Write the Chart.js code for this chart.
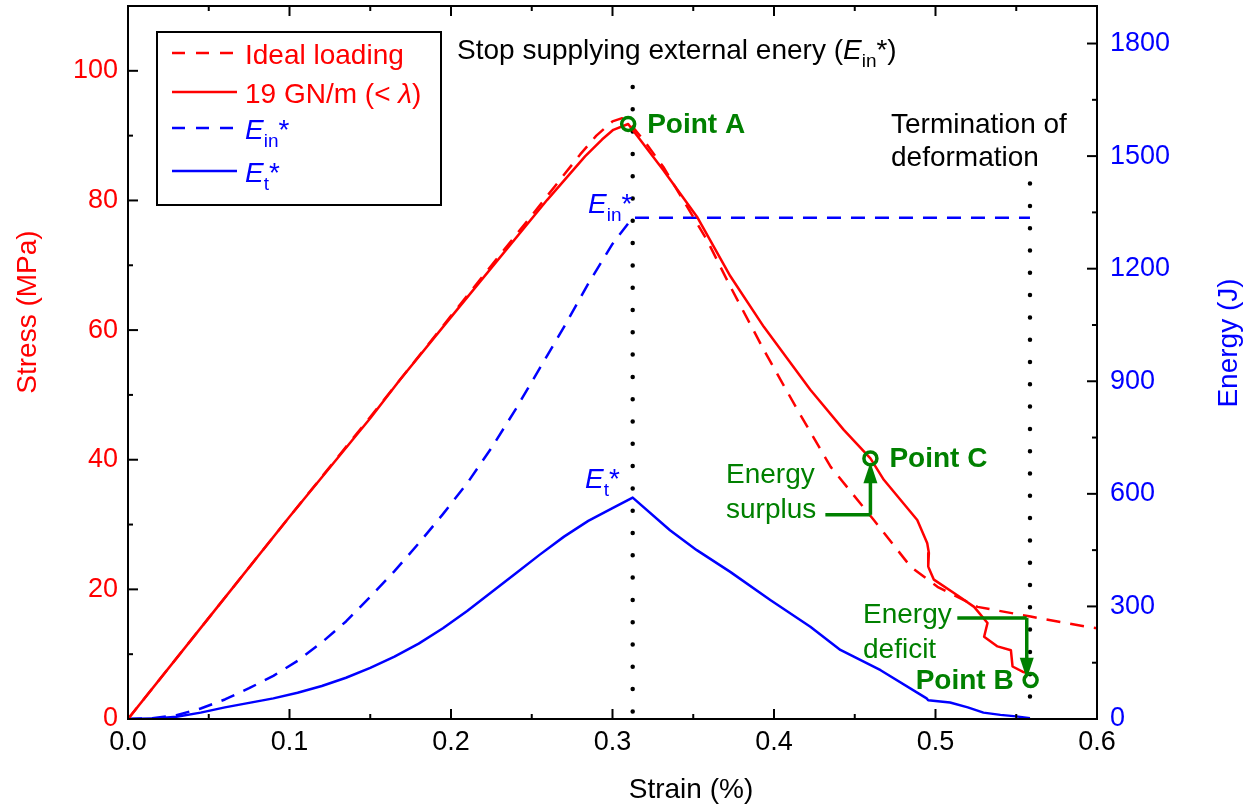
<!DOCTYPE html>
<html>
<head>
<meta charset="utf-8">
<script src="https://cdn.jsdelivr.net/npm/chart.js@4.4.1/dist/chart.umd.min.js"></script>
<style>
  html, body { margin: 0; padding: 0; background: #fff; }
</style>
</head>
<body>
<canvas id="strainChart" width="1252" height="809"></canvas>
<script>
// ideal loading (red dashed)
const strainIdeal = [0, 0.05, 0.10, 0.15, 0.20, 0.25, 0.28, 0.29, 0.30, 0.306, 0.312, 0.319, 0.3314, 0.3585, 0.373, 0.3938, 0.4145, 0.4351, 0.4618, 0.4846, 0.5012, 0.526, 0.5589, 0.5943, 0.6];
const stressIdeal = [0, 15.6, 31.2, 46.6, 62.2, 77.7, 87.1, 90.0, 92.2, 92.7, 91.5, 89.4, 85.2, 73.9, 66.7, 56.9, 47.7, 38.9, 30.7, 23.5, 20.4, 17.3, 15.8, 14.2, 14.0];

// 19 GN/m (red solid)
const strainLoad = [0, 0.05, 0.10, 0.15, 0.1683, 0.20, 0.2596, 0.283, 0.2935, 0.3005, 0.3097, 0.3314, 0.3523, 0.373, 0.3937, 0.4225, 0.4432, 0.4597, 0.468, 0.4887, 0.4949, 0.4959, 0.4955, 0.499, 0.5135, 0.5239, 0.5322, 0.5301, 0.5384, 0.5467, 0.5477, 0.5539, 0.558];
const stressLoad = [0, 15.6, 31.2, 46.4, 52.3, 62.0, 80.1, 86.8, 89.4, 90.9, 91.8, 84.7, 77.5, 68.3, 60.5, 50.8, 44.6, 40.2, 36.9, 30.7, 27.1, 25.6, 23.5, 21.5, 19.1, 17.3, 14.8, 12.7, 11.2, 10.6, 8.1, 7.3, 7.0];

// E_in* (blue dashed)
const strainEin = [0, 0.015, 0.03, 0.045, 0.06, 0.075, 0.09, 0.105, 0.12, 0.135, 0.15, 0.165, 0.18, 0.195, 0.21, 0.225, 0.24, 0.255, 0.27, 0.285, 0.30, 0.3125, 0.5585];
const energyEin = [0, 2, 10, 28, 52, 82, 115, 155, 204, 260, 326, 394, 468, 546, 628, 722, 825, 935, 1045, 1160, 1266, 1336, 1336];

// E_t* (blue solid)
const strainEt = [0, 0.015, 0.03, 0.045, 0.06, 0.075, 0.09, 0.105, 0.12, 0.135, 0.15, 0.165, 0.18, 0.195, 0.21, 0.225, 0.24, 0.255, 0.27, 0.285, 0.30, 0.3125, 0.3356, 0.3522, 0.3729, 0.3977, 0.4225, 0.4411, 0.466, 0.4945, 0.4955, 0.509, 0.52, 0.5297, 0.5402, 0.55, 0.5585];
const energyEt = [0, 1, 6, 17, 31, 43, 55, 70, 88, 110, 136, 166, 201, 242, 288, 338, 388, 438, 486, 528, 562, 590, 503, 450, 392, 317, 246, 184, 130, 55, 50, 44, 31, 17, 11, 7, 2];

// axis ticks
const strainTicks = [0, 0.1, 0.2, 0.3, 0.4, 0.5, 0.6];
const stressTicks = [0, 20, 40, 60, 80, 100];
const energyTicks = [0, 300, 600, 900, 1200, 1500, 1800];

// marked points and guide lines
const stopStrain = 0.3125;
const endStrain = 0.5585;
const pointA = [0.3097, 91.8];
const pointC = [0.4597, 40.2];
const pointB = [0.5589, 6.0];

const FONT = "'Liberation Sans', Arial, sans-serif";
const RED = '#ff0000', BLUE = '#0000ff', GREEN = '#008000';
Chart.defaults.font.family = FONT;

const pairs = (xs, ys) => xs.map((x, i) => ({ x, y: ys[i] }));

function rich(ctx, x, y, parts, color, align) {
    let w = 0;
    const m = parts.map(p => {
        const sz = p.sub ? 19 : 28;
        const f = (p.i ? 'italic ' : '') + (p.b ? 'bold ' : '') + sz + 'px ' + FONT;
        ctx.font = f;
        const pw = ctx.measureText(p.t).width;
        w += pw;
        return { p, f, pw };
    });
    let cx = align === 'right' ? x - w : align === 'center' ? x - w / 2 : x;
    ctx.fillStyle = color;
    ctx.textAlign = 'left';
    ctx.textBaseline = 'alphabetic';
    m.forEach(({ p, f, pw }) => {
        ctx.font = f;
        ctx.fillText(p.t, cx, y + (p.sub ? 8 : 0));
        cx += pw;
    });
}

function seg(ctx, x1, y1, x2, y2) {
    ctx.beginPath();
    ctx.moveTo(x1, y1);
    ctx.lineTo(x2, y2);
    ctx.stroke();
}

function arrowHead(ctx, x, y, dir) {
    // dir: -1 up, 1 down
    ctx.beginPath();
    ctx.moveTo(x, y);
    ctx.lineTo(x - 7, y - dir * 21);
    ctx.lineTo(x + 7, y - dir * 21);
    ctx.closePath();
    ctx.fill();
}

const overlay = {
    id: 'overlay',
    beforeDatasetsDraw(chart) {
        const { ctx, chartArea: a, scales: { x, y } } = chart;
        ctx.save();
        ctx.strokeStyle = '#000';
        ctx.lineWidth = 4.5;
        ctx.lineCap = 'round';
        ctx.setLineDash([0, 22.3]);
        // drawn from the top so the first dot sits at the line's start
        seg(ctx, x.getPixelForValue(stopStrain), y.getPixelForValue(97.5), x.getPixelForValue(stopStrain), a.bottom - 6);
        seg(ctx, x.getPixelForValue(endStrain), y.getPixelForValue(82.6), x.getPixelForValue(endStrain), a.bottom - 6);
        ctx.restore();
    },
    afterDatasetsDraw(chart) {
        const { ctx, chartArea: a, scales: { x, y, y2 } } = chart;
        ctx.save();

        // frame
        ctx.strokeStyle = '#000';
        ctx.lineWidth = 2;
        ctx.strokeRect(a.left, a.top, a.right - a.left, a.bottom - a.top);

        // inward ticks
        for (let i = 0; i <= 12; i++) {
            const px = x.getPixelForValue(i * 0.05);
            const L = i % 2 === 0 ? 10 : 5;
            seg(ctx, px, a.bottom, px, a.bottom - L);
            seg(ctx, px, a.top, px, a.top + L);
        }
        for (let i = 0; i <= 10; i++) {
            const py = y.getPixelForValue(i * 10);
            seg(ctx, a.left, py, a.left + (i % 2 === 0 ? 10 : 5), py);
        }
        for (let i = 0; i <= 12; i++) {
            const py = y2.getPixelForValue(i * 150);
            seg(ctx, a.right, py, a.right - (i % 2 === 0 ? 10 : 5), py);
        }

        // axis titles
        ctx.font = '28px ' + FONT;
        ctx.textAlign = 'center';
        ctx.textBaseline = 'middle';
        ctx.fillStyle = '#000';
        ctx.fillText('Strain (%)', 691, 790);
        ctx.save();
        ctx.translate(28, 312);
        ctx.rotate(-Math.PI / 2);
        ctx.fillStyle = RED;
        ctx.fillText('Stress (MPa)', 0, 0);
        ctx.restore();
        ctx.save();
        ctx.translate(1229, 343);
        ctx.rotate(-Math.PI / 2);
        ctx.fillStyle = BLUE;
        ctx.fillText('Energy (J)', 0, 0);
        ctx.restore();

        // text annotations
        rich(ctx, 457, 59, [{ t: 'Stop supplying external enery (' }, { t: 'E', i: 1 }, { t: 'in', sub: 1 }, { t: '*)' }], '#000');
        rich(ctx, 891, 133, [{ t: 'Termination of' }], '#000');
        rich(ctx, 891, 166, [{ t: 'deformation' }], '#000');
        rich(ctx, 588, 213, [{ t: 'E', i: 1 }, { t: 'in', sub: 1 }, { t: '*' }], BLUE);
        rich(ctx, 585, 488, [{ t: 'E', i: 1 }, { t: 't', sub: 1 }, { t: '*' }], BLUE);

        // points
        const ptxt = [[pointA, 'Point A', 'left'], [pointC, 'Point C', 'left'], [pointB, 'Point B', 'right']];
        ctx.strokeStyle = GREEN;
        ctx.lineWidth = 3.5;
        ptxt.forEach(([p, label, al]) => {
            const px = x.getPixelForValue(p[0]);
            const py = y.getPixelForValue(p[1]);
            ctx.beginPath();
            ctx.arc(px, py, 6.5, 0, Math.PI * 2);
            ctx.stroke();
            rich(ctx, al === 'left' ? px + 19 : px - 17, py + 9, [{ t: label, b: 1 }], GREEN, al);
        });

        // energy surplus arrow
        ctx.fillStyle = GREEN;
        const cx = x.getPixelForValue(pointC[0]);
        const sy = y.getPixelForValue(31.5);
        seg(ctx, x.getPixelForValue(0.4318), sy, cx, sy);
        seg(ctx, cx, sy, cx, y.getPixelForValue(37));
        arrowHead(ctx, cx, y.getPixelForValue(39.6), -1);
        rich(ctx, 726, 483, [{ t: 'Energy' }], GREEN);
        rich(ctx, 726, 518, [{ t: 'surplus' }], GREEN);

        // energy deficit arrow
        ctx.fillStyle = GREEN;
        const dx = x.getPixelForValue(0.5565);
        const dy = y.getPixelForValue(15.6);
        seg(ctx, x.getPixelForValue(0.5135), dy, dx, dy);
        seg(ctx, dx, dy, dx, y.getPixelForValue(9));
        arrowHead(ctx, dx, y.getPixelForValue(6.2), 1);
        rich(ctx, 863, 623, [{ t: 'Energy' }], GREEN);
        rich(ctx, 863, 658, [{ t: 'deficit' }], GREEN);

        // legend
        ctx.fillStyle = '#fff';
        ctx.fillRect(157, 32, 284, 173);
        ctx.strokeStyle = '#000';
        ctx.lineWidth = 2;
        ctx.strokeRect(157, 32, 284, 173);
        const rows = [
            [RED, [13, 11], 53, [{ t: 'Ideal loading' }]],
            [RED, [], 92, [{ t: '19 GN/m (< ' }, { t: '\u03bb', i: 1 }, { t: ')' }]],
            [BLUE, [13, 11], 128, [{ t: 'E', i: 1 }, { t: 'in', sub: 1 }, { t: '*' }]],
            [BLUE, [], 171, [{ t: 'E', i: 1 }, { t: 't', sub: 1 }, { t: '*' }]]
        ];
        rows.forEach(([col, dash, ly, parts]) => {
            ctx.strokeStyle = col;
            ctx.lineWidth = 2.5;
            ctx.setLineDash(dash);
            seg(ctx, 172, ly, 237, ly);
            ctx.setLineDash([]);
            rich(ctx, 245, ly + 11, parts, col);
        });

        ctx.restore();
    }
};

new Chart(document.getElementById('strainChart'), {
    type: 'line',
    data: {
        datasets: [
            { label: 'Ideal loading', data: pairs(strainIdeal, stressIdeal), borderColor: RED, borderDash: [14, 10], yAxisID: 'y' },
            { label: '19 GN/m', data: pairs(strainLoad, stressLoad), borderColor: RED, yAxisID: 'y' },
            { label: 'Ein*', data: pairs(strainEin, energyEin), borderColor: BLUE, borderDash: [14, 10], yAxisID: 'y2' },
            { label: 'Et*', data: pairs(strainEt, energyEt), borderColor: BLUE, yAxisID: 'y2' }
        ]
    },
    options: {
        responsive: false,
        animation: false,
        devicePixelRatio: 1,
        layout: { padding: { top: 6, left: 0, right: 0, bottom: 0 } },
        elements: {
            point: { radius: 0 },
            line: { borderWidth: 2.5, tension: 0, fill: false, borderJoinStyle: 'round' }
        },
        plugins: {
            legend: { display: false },
            tooltip: { enabled: false }
        },
        scales: {
            x: {
                type: 'linear', min: 0, max: 0.6,
                grid: { display: false, drawTicks: false },
                border: { display: false },
                afterBuildTicks: s => { s.ticks = strainTicks.map(v => ({ value: v })); },
                afterFit: s => { s.height = 90; s.paddingLeft = 0; s.paddingRight = 0; },
                ticks: { padding: 7, color: '#000', font: { size: 27 }, maxRotation: 0, autoSkip: false, callback: v => v.toFixed(1) }
            },
            y: {
                position: 'left', min: 0, max: 110,
                grid: { display: false, drawTicks: false },
                border: { display: false },
                afterBuildTicks: s => { s.ticks = stressTicks.map(v => ({ value: v })); },
                afterFit: s => { s.width = 128; s.paddingTop = 0; s.paddingBottom = 0; },
                ticks: { padding: 10, color: RED, font: { size: 27 }, autoSkip: false, callback: v => String(v) }
            },
            y2: {
                position: 'right', min: 0, max: 1900,
                grid: { display: false, drawTicks: false },
                border: { display: false },
                afterBuildTicks: s => { s.ticks = energyTicks.map(v => ({ value: v })); },
                afterFit: s => { s.width = 155; s.paddingTop = 0; s.paddingBottom = 0; },
                ticks: { padding: 13, color: BLUE, font: { size: 27 }, autoSkip: false, callback: v => String(v) }
            }
        }
    },
    plugins: [overlay]
});
</script>
</body>
</html>
